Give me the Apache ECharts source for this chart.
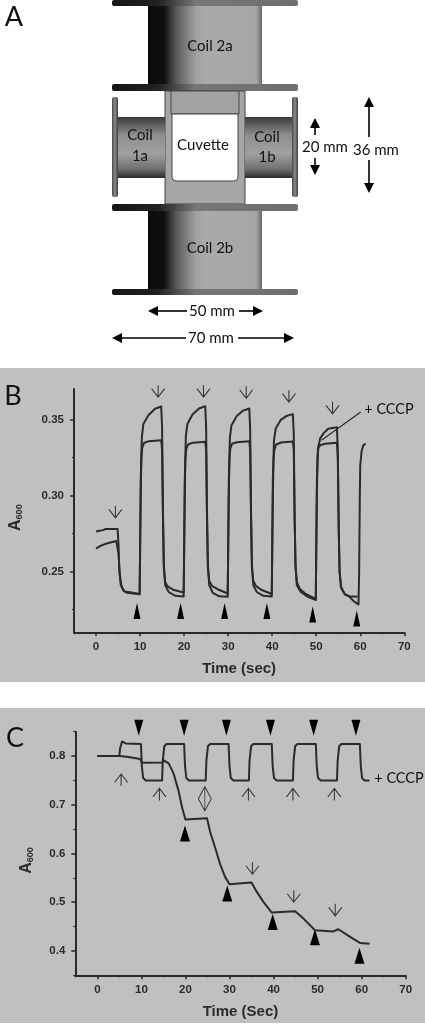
<!DOCTYPE html>
<html>
<head>
<meta charset="utf-8">
<style>html,body{margin:0;padding:0;background:#fff}#main{width:425px;height:1025px}</style>
<script src="https://cdn.jsdelivr.net/npm/echarts@6/dist/echarts.min.js"></script>
</head>
<body>
<div id="main"></div>
<script>
// panel B traces, [sec, A600]
var bControl = [[0,.2763],[.8,.2768],[1.2,.2778],[1.6,.2772],[2.2,.278],[4.9,.278],[5.1,.268],[5.3,.25],[5.6,.2415],[6.2,.2375],[7,.236],[8,.2357],[9.9,.235],
  [10,.262],[10.15,.31],[10.4,.338],[10.75,.347],[11.9,.3527],[13.4,.357],[14.8,.3585],[15,.345],[15.2,.29],[15.4,.255],[15.7,.241],[16.5,.2365],[18,.234],[19.9,.2335],
  [20,.262],[20.15,.31],[20.4,.339],[20.75,.347],[21.9,.3532],[23.4,.3572],[24.8,.3587],[25,.345],[25.2,.29],[25.4,.255],[25.7,.241],[26.5,.236],[28,.2337],[29.9,.2333],
  [30,.262],[30.15,.31],[30.4,.338],[30.75,.346],[31.9,.352],[33.4,.3558],[34.8,.3572],[35,.344],[35.2,.29],[35.4,.255],[35.7,.241],[36.5,.2365],[38,.234],[39.9,.2335],
  [40,.262],[40.15,.31],[40.4,.336],[40.8,.344],[41.9,.3495],[43.2,.3522],[44.7,.3535],[44.9,.34],[45.1,.285],[45.3,.255],[45.6,.241],[46.5,.2365],[48,.2335],[49.9,.2312],
  [50,.262],[50.15,.31],[50.4,.331],[50.9,.3375],[51.7,.341],[52.7,.3438],[54.7,.3448],[54.9,.33],[55.1,.28],[55.3,.25],[55.7,.239],[56.5,.235],[57.5,.2337],[59.4,.2334]];
var bCccp = [[0,.2651],[1,.2668],[2.4,.2684],[4.6,.27],[4.9,.27],[5.1,.262],[5.4,.248],[5.8,.24],[6.5,.2368],[8,.2362],[9.9,.2352],
  [10,.26],[10.15,.3],[10.3,.325],[10.5,.3315],[10.9,.3345],[12,.3357],[14.8,.3363],[15,.33],[15.2,.285],[15.4,.252],[15.7,.243],[16.3,.24],[17.5,.238],[19.9,.2362],
  [20,.26],[20.15,.3],[20.3,.324],[20.5,.3305],[20.9,.3335],[22,.3347],[24.8,.3353],[25,.33],[25.2,.285],[25.4,.252],[25.7,.244],[26.3,.2405],[27.5,.2385],[29.9,.2355],
  [30,.26],[30.15,.3],[30.3,.325],[30.5,.331],[30.9,.334],[32,.335],[34.8,.3357],[35,.33],[35.2,.285],[35.4,.252],[35.7,.244],[36.3,.2405],[37.5,.238],[39.9,.2352],
  [40,.26],[40.15,.3],[40.3,.323],[40.5,.33],[40.9,.3335],[42,.3348],[44.7,.3355],[44.9,.33],[45.1,.285],[45.3,.252],[45.6,.243],[46.3,.2385],[47.5,.2355],[49.9,.232],
  [50,.26],[50.15,.3],[50.3,.325],[50.5,.3315],[51,.3332],[52,.334],[54.7,.3347],[54.9,.325],[55.1,.28],[55.3,.25],[55.6,.24],[56.5,.235],[57.5,.2335],[58.5,.2305],[59.6,.2283],
  [59.75,.25],[59.9,.3],[60,.32],[60.3,.329],[60.7,.333],[61.2,.3341]];
var bLeader = [[60.1,.3549],[51.2,.3363]];
var bOpenArrows = [[4.4,.2892],[14.1,.3686],[24.4,.3686],[34.1,.3678],[43.8,.3653],[53.7,.3576]];
var bUpHeads = [[9.3,.224],[19.2,.224],[29.2,.224],[38.8,.224],[49.2,.2217],[59.2,.2191]];

// panel C traces
var cCccp = [[0,.8],[2,.8],[5,.8],[5.15,.815],[5.6,.83],[6.4,.826],[9.9,.8247],[10.1,.78],[10.4,.755],[11,.75],[14.7,.75],
  [14.85,.79],[15.2,.82],[15.7,.8247],[19.7,.8247],[19.9,.78],[20.2,.755],[20.8,.75],[24.6,.75],
  [24.75,.79],[25.1,.82],[25.6,.8247],[29.8,.8247],[30,.78],[30.3,.755],[30.9,.75],[34.4,.75],
  [34.55,.79],[34.9,.82],[35.4,.8247],[39.6,.8247],[39.8,.78],[40.1,.755],[40.7,.75],[44.4,.75],
  [44.55,.79],[44.9,.82],[45.4,.8247],[49.6,.8247],[49.8,.78],[50.1,.755],[50.7,.75],[54.4,.75],
  [54.55,.79],[54.9,.82],[55.4,.8247],[59.6,.8247],[59.8,.78],[60.1,.755],[60.6,.75],[61.8,.75]];
var cControl = [[0,.8],[5,.8],[6.7,.7985],[9.75,.7938],[10.1,.7863],[14.8,.787],[15,.7918],[16.2,.785],[17.3,.7644],[18.4,.7301],[19.3,.6925],[20,.67],
  [24.9,.6726],[25.6,.6445],[26.8,.6103],[27.9,.5774],[29,.552],[30,.537],[35,.5404],[36.2,.5212],[37.7,.5007],[39.6,.4788],
  [44.9,.4815],[46.8,.4664],[49.4,.4425],[49.7,.44],[53.6,.44],[54.7,.4445],[57.4,.4288],[59.6,.4165],[60,.414],[61.8,.415]];
var cDownHeads = [[9.4,.858],[19.7,.858],[29.3,.858],[39.3,.858],[49.1,.858],[58.7,.858]];
var cUpHeads = [[19.9,.641],[29.5,.5178],[39.8,.4596],[49.4,.428],[59.5,.39]];
var cOpenUp = [[5.4,.7507],[14.1,.7213],[34.3,.7213],[44.4,.7213],[53.8,.7213]];
var cOpenDown = [[35.2,.5698],[44.6,.5123],[54,.4843]];
var cDouble = [[24.4,.7123]];

var xMajor = [0,10,20,30,40,50,60,70];
var xMinor = [-5,5,15,25,35,45,55,65];
var bYMajor = [0.25,0.30,0.35];
var bYMinor = [0.225,0.275,0.325];
var cYMajor = [0.4,0.5,0.6,0.7,0.8];
var cYMinor = [0.35,0.45,0.55,0.65,0.75,0.85];

var INK = '#2a2a2a', SANS = 'Liberation Sans', LABEL = 'Lato';
var ARROW_DOWN = 'path://M6.5 0L6.5 12M0.5 3.5L6.5 12L12.5 3.5';
var ARROW_UP = 'path://M6.5 12L6.5 0M0.5 8.5L6.5 0L12.5 8.5';
var ARROW_BOTH = 'path://M6.5 0L6.5 24M6.5 0L0.5 12L6.5 24L12.5 12Z';

function xAxes(grid, name) {
    return [{
        gridIndex: grid, type: 'value', min: -5, max: 70, position: 'bottom',
        name: name, nameLocation: 'middle', nameGap: 29,
        nameTextStyle: { fontFamily: SANS, fontWeight: 'bold', fontSize: 15, color: INK },
        splitLine: { show: false },
        axisLine: { onZero: false, lineStyle: { color: INK, width: 2 } },
        axisTick: { length: 4, customValues: xMajor, lineStyle: { color: INK, width: 1.5 } },
        axisLabel: { customValues: xMajor, margin: 9, fontFamily: SANS, fontWeight: 'bold', fontSize: 11.5, color: INK }
    }, {
        gridIndex: grid, type: 'value', min: -5, max: 70, position: 'bottom',
        splitLine: { show: false },
        axisLine: { show: false, onZero: false },
        axisTick: { length: 2, customValues: xMinor, lineStyle: { color: INK, width: 1.2 } },
        axisLabel: { show: false }
    }];
}

function yAxes(grid, min, max, major, minor, digits, gap) {
    return [{
        gridIndex: grid, type: 'value', min: min, max: max, position: 'left',
        name: 'A{sub|600}', nameLocation: 'middle', nameGap: gap, nameRotate: 90,
        nameTextStyle: { fontFamily: SANS, fontSize: 16, fontWeight: 'bold', color: INK, padding: [0, 14, 0, 0],
            rich: { sub: { fontFamily: SANS, fontSize: 9, fontWeight: 'bold', color: INK, verticalAlign: 'bottom', padding: [8, 0, 0, 0] } } },
        splitLine: { show: false },
        axisLine: { onZero: false, lineStyle: { color: INK, width: 2 } },
        axisTick: { length: 4, customValues: major, lineStyle: { color: INK, width: 1.5 } },
        axisLabel: { customValues: major, margin: 10, fontFamily: SANS, fontWeight: 'bold', fontSize: 11.5, color: INK,
            formatter: function (v) { return v.toFixed(digits); } }
    }, {
        gridIndex: grid, type: 'value', min: min, max: max, position: 'left',
        splitLine: { show: false },
        axisLine: { show: false, onZero: false },
        axisTick: { length: 2, customValues: minor, lineStyle: { color: INK, width: 1.2 } },
        axisLabel: { show: false }
    }];
}

function trace(axis, data, width) {
    return { type: 'line', xAxisIndex: axis, yAxisIndex: axis, data: data, showSymbol: false, clip: false, silent: true,
        lineStyle: { color: INK, width: width || 2, join: 'round' } };
}
function heads(axis, data, rotate, size) {
    return { type: 'scatter', xAxisIndex: axis, yAxisIndex: axis, data: data, symbol: 'triangle', symbolRotate: rotate, symbolSize: size,
        clip: false, silent: true, itemStyle: { color: '#000', opacity: 1 } };
}
function open(axis, data, path, size) {
    return { type: 'scatter', xAxisIndex: axis, yAxisIndex: axis, data: data, symbol: path, symbolSize: size, symbolKeepAspect: false,
        clip: false, silent: true, itemStyle: { color: 'rgba(0,0,0,0)', borderColor: '#333', borderWidth: 1, opacity: 1 } };
}

// schematic of panel A, not data
var DARK_H = { type: 'linear', x: 0, y: 0, x2: 1, y2: 0, colorStops: [{ offset: 0, color: '#0c0c0c' }, { offset: .14, color: '#101010' }, { offset: .25, color: '#5a5a5a' }, { offset: .42, color: '#a0a0a0' }, { offset: .5, color: '#aaaaaa' }, { offset: .95, color: '#a6a6a6' }, { offset: 1, color: '#6a6a6a' }] };
var FLANGE_H = { type: 'linear', x: 0, y: 0, x2: 1, y2: 0, colorStops: [{ offset: 0, color: '#151515' }, { offset: .25, color: '#222' }, { offset: .45, color: '#777' }, { offset: 1, color: '#6e6e6e' }] };
var BODY_V = { type: 'linear', x: 0, y: 0, x2: 0, y2: 1, colorStops: [{ offset: 0, color: '#3a3a3a' }, { offset: .3, color: '#8f8f8f' }, { offset: .6, color: '#a0a0a0' }, { offset: .85, color: '#707070' }, { offset: 1, color: '#2c2c2c' }] };
var FLANGE_V = { type: 'linear', x: 0, y: 0, x2: 1, y2: 0, colorStops: [{ offset: 0, color: '#4a4a4a' }, { offset: .5, color: '#8a8a8a' }, { offset: 1, color: '#3a3a3a' }] };

function box(x, y, w, h, fill, r, stroke) {
    return { type: 'rect', shape: { x: x, y: y, width: w, height: h, r: r || 0 }, silent: true,
        style: { fill: fill, stroke: stroke || null, lineWidth: stroke ? 1 : 0 } };
}
function label(x, y, str, size, color) {
    return { type: 'text', x: x, y: y, silent: true, z: 5,
        style: { text: str, fontFamily: LABEL, fontSize: size || 15, fill: color || '#111', align: 'center', verticalAlign: 'middle' } };
}
function arrow(x1, y1, x2, y2) {
    var dx = x2 > x1 ? 1 : x2 < x1 ? -1 : 0, dy = y2 > y1 ? 1 : y2 < y1 ? -1 : 0, len = 10, half = 5;
    var bx = x2 - dx * len, by = y2 - dy * len;
    return [
        { type: 'line', silent: true, shape: { x1: x1, y1: y1, x2: bx, y2: by }, style: { stroke: '#000', lineWidth: 1.6 } },
        { type: 'polygon', silent: true, shape: { points: [[x2, y2], [bx + dy * half, by + dx * half], [bx - dy * half, by - dx * half]] }, style: { fill: '#000' } }
    ];
}

var graphics = [
    { type: 'rect', z: -10, silent: true, shape: { x: 0, y: 368, width: 425, height: 314 }, style: { fill: '#c0c0c0' } },
    { type: 'rect', z: -10, silent: true, shape: { x: 0, y: 708, width: 425, height: 315 }, style: { fill: '#c0c0c0' } },
    box(112, 0, 186, 6, FLANGE_H, 2),
    box(148, 6, 114, 78, DARK_H),
    box(112, 84, 186, 7, FLANGE_H, 2),
    box(165, 91, 80, 113, '#a6a6a6', 0, '#444'),
    box(171, 91, 68, 23, '#a2a2a2', 0, '#444'),
    box(172, 114, 66, 67, '#ffffff', [0, 0, 4, 4], '#444'),
    box(118, 117, 47, 61, BODY_V),
    box(112, 97, 6, 100, FLANGE_V, 2),
    box(245, 117, 47, 61, BODY_V),
    box(292, 97, 6, 100, FLANGE_V, 2),
    box(112, 204, 186, 7, FLANGE_H, 2),
    box(148, 211, 114, 78, DARK_H),
    box(112, 289, 186, 6, FLANGE_H, 2),
    label(14, 17, 'A', 27), label(13, 396, 'B', 27), label(15, 738, 'C', 27),
    label(210, 46, 'Coil 2a'), label(210, 248, 'Coil 2b'),
    label(140, 135, 'Coil'), label(140, 156, '1a'),
    label(267, 137, 'Coil'), label(267, 157, '1b'),
    label(203, 145, 'Cuvette'),
    label(325, 147, '20 mm'), label(376, 150, '36 mm'),
    label(212, 311, '50 mm'), label(211, 338, '70 mm'),
    label(389, 409, '+ CCCP', 14.5), label(399, 778, '+ CCCP', 14.5)
].concat(
    arrow(315, 135, 315, 118), arrow(315, 158, 315, 175),
    arrow(369, 137, 369, 97), arrow(369, 160, 369, 193),
    arrow(187, 311, 148, 311), arrow(239, 311, 263, 311),
    arrow(186, 338, 112, 338), arrow(238, 338, 294, 338)
);

var myChart = echarts.init(document.getElementById('main'), null, { renderer: 'canvas' });

myChart.setOption({
    animation: false,
    backgroundColor: '#ffffff',
    graphic: { elements: graphics },
    grid: [
        { left: 74, top: 389, width: 330.3, height: 243.3, outerBoundsMode: 'none' },
        { left: 75.3, top: 731.7, width: 330.4, height: 243.6, outerBoundsMode: 'none' }
    ],
    xAxis: xAxes(0, 'Time (sec)').concat(xAxes(1, 'Time (Sec)')),
    yAxis: yAxes(0, 0.21, 0.37, bYMajor, bYMinor, 2, 50).concat(yAxes(1, 0.35, 0.85, cYMajor, cYMinor, 1, 40)),
    series: [
        trace(0, bControl),
        trace(0, bCccp),
        trace(0, bLeader, 1.2),
        open(0, bOpenArrows, ARROW_DOWN, [13, 12]),
        heads(0, bUpHeads, 0, [7, 16]),
        trace(2, cCccp),
        trace(2, cControl),
        heads(2, cDownHeads, 180, [9, 16]),
        heads(2, cUpHeads, 0, [10, 16]),
        open(2, cOpenUp, ARROW_UP, [13, 12]),
        open(2, cOpenDown, ARROW_DOWN, [13, 12]),
        open(2, cDouble, ARROW_BOTH, [13, 24])
    ]
});
</script>
</body>
</html>
